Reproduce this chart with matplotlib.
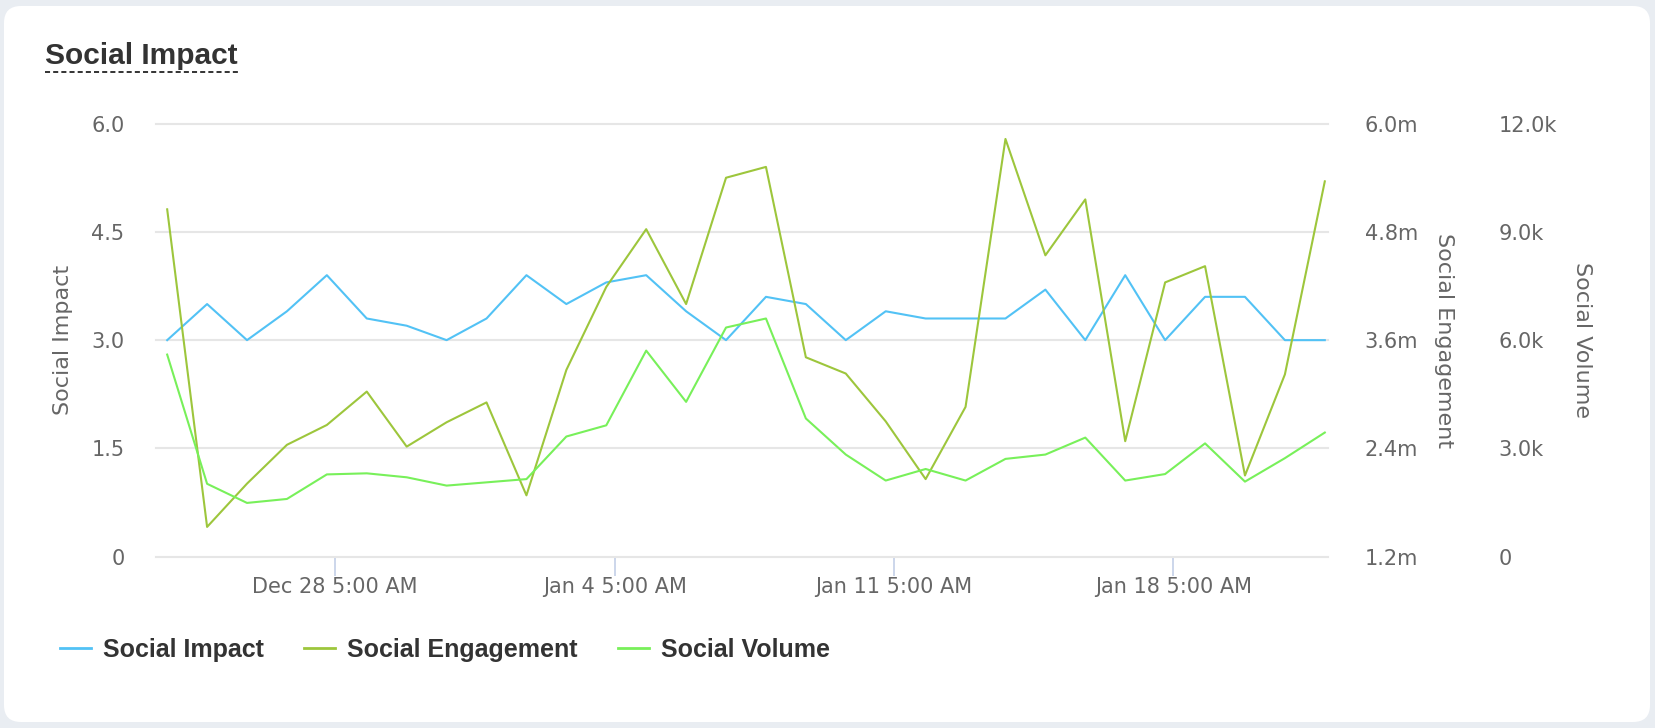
import matplotlib
matplotlib.use("Agg")
import matplotlib.pyplot as plt
import matplotlib.dates as mdates
from matplotlib.patches import FancyBboxPatch
from matplotlib.lines import Line2D
import pandas as pd

# ---------------- data ----------------
dates = pd.date_range("2019-12-24", periods=30, freq="D")

social_impact = [3.0, 3.5, 3.0, 3.4, 3.9, 3.3, 3.2, 3.0, 3.3, 3.9,
                 3.5, 3.8, 3.9, 3.4, 3.0, 3.6, 3.5, 3.0, 3.4, 3.3,
                 3.3, 3.3, 3.7, 3.0, 3.9, 3.0, 3.6, 3.6, 3.0, 3.0]

social_engagement = [5.05, 1.53, 2.01, 2.44, 2.66, 3.03, 2.42, 2.69, 2.91, 1.88,
                     3.27, 4.19, 4.83, 4.00, 5.40, 5.52, 3.41, 3.23, 2.70, 2.06,
                     2.86, 5.83, 4.54, 5.16, 2.48, 4.24, 4.42, 2.10, 3.22, 5.36]  # millions

social_volume = [5600, 2020, 1490, 1600, 2280, 2310, 2200, 1970, 2060, 2150,
                 3330, 3640, 5710, 4290, 6350, 6600, 3830, 2830, 2110, 2430,
                 2110, 2710, 2830, 3300, 2110, 2290, 3140, 2080, 2730, 3440]

x_tick_dates = ["2019-12-28 05:00", "2020-01-04 05:00", "2020-01-11 05:00", "2020-01-18 05:00"]
x_tick_labels = ["Dec 28 5:00 AM", "Jan 4 5:00 AM", "Jan 11 5:00 AM", "Jan 18 5:00 AM"]

impact_ticks = [0, 1.5, 3.0, 4.5, 6.0]
impact_tick_labels = ["0", "1.5", "3.0", "4.5", "6.0"]
eng_ticks = [1.2, 2.4, 3.6, 4.8, 6.0]
eng_tick_labels = ["1.2m", "2.4m", "3.6m", "4.8m", "6.0m"]
vol_ticks = [0, 3000, 6000, 9000, 12000]
vol_tick_labels = ["0", "3.0k", "6.0k", "9.0k", "12.0k"]

series_names = ["Social Impact", "Social Engagement", "Social Volume"]
colors = ["#52c2f5", "#9dc63c", "#78f05a"]

# ---------------- figure ----------------
W, H = 1656, 728
fig = plt.figure(figsize=(W / 100, H / 100), dpi=100, facecolor="#e9edf2")

card = FancyBboxPatch((0.04, 0.06), 16.46, 7.16,
                      boxstyle="round,pad=0,rounding_size=0.17",
                      transform=fig.dpi_scale_trans, facecolor="white",
                      edgecolor="none", zorder=0)
fig.add_artist(card)

sans = ["DejaVu Sans"]
title_font = ["Liberation Sans", "DejaVu Sans"]

# title with dashed underline
fig.text(45 / W, 1 - 63.5 / H, "Social Impact", family=title_font, weight="bold",
         fontsize=21.5, color="#333333", ha="left", va="baseline")
fig.add_artist(Line2D([45 / W, 238 / W], [1 - 72 / H, 1 - 72 / H],
                      transform=fig.transFigure, color="#333333", lw=1.4,
                      linestyle=(0, (2.6, 1.6))))

ax_left, ax_right_px, ax_top, ax_bot = 156, 1328, 123.6, 556.7
ax = fig.add_axes([ax_left / W, 1 - ax_bot / H, (ax_right_px - ax_left) / W,
                   (ax_bot - ax_top) / H])
ax.set_facecolor("none")
aw = ax_right_px - ax_left

x = mdates.date2num(dates.to_pydatetime())
xt = mdates.date2num(pd.to_datetime(x_tick_dates).to_pydatetime())

ax2 = ax.twinx()
ax3 = ax.twinx()

l1, = ax.plot(x, social_impact, color=colors[0], lw=1.5, zorder=3)
l2, = ax2.plot(x, social_engagement, color=colors[1], lw=1.5, zorder=3)
l3, = ax3.plot(x, social_volume, color=colors[2], lw=1.5, zorder=3)

ax.set_xlim(x[0] - 0.28, x[-1] + 0.08)
ax.set_ylim(0, 6.0)
ax2.set_ylim(1.2, 6.0)
ax3.set_ylim(0, 12000)

for a in (ax, ax2, ax3):
    for s in a.spines.values():
        s.set_visible(False)

ax.set_yticks(impact_ticks, labels=impact_tick_labels)
ax2.set_yticks(eng_ticks, labels=eng_tick_labels)
ax3.set_yticks(vol_ticks, labels=vol_tick_labels)
ax3.spines["right"].set_position(("axes", 1 + 134 / aw))

ax.tick_params(axis="y", length=0, pad=22.7, labelsize=15, labelcolor="#666666")
for a in (ax2, ax3):
    a.tick_params(axis="y", length=0, pad=26.4, labelsize=15, labelcolor="#666666")
    for lab in a.get_yticklabels():
        lab.set_family(sans)
for lab in ax.get_yticklabels():
    lab.set_family(sans)

ax.set_xticks(xt, labels=x_tick_labels)
ax.tick_params(axis="x", length=13.5, width=1.4, color="#ccd6eb", pad=1,
               labelsize=15, labelcolor="#666666")

ax.grid(axis="y", color="#e6e6e6", lw=1.5)
ax.grid(axis="x", visible=False)
ax.set_axisbelow(True)
for gl in ax.get_ygridlines():
    gl.set_clip_on(False)

ax.set_ylabel("Social Impact", fontsize=16, color="#666666", ha="center", va="center")
ax.yaxis.set_label_coords((63 - ax_left) / aw, 0.5)
ax2.set_ylabel("Social Engagement", fontsize=16, color="#666666", rotation=270,
               ha="center", va="center")
ax2.yaxis.set_label_coords((1444 - ax_left) / aw, 0.5)
ax3.set_ylabel("Social Volume", fontsize=16, color="#666666", rotation=270,
               ha="center", va="center")
ax3.yaxis.set_label_coords((1582 - ax_left) / aw, 0.5)

leg = fig.legend([l1, l2, l3], series_names, loc="center left",
                 bbox_to_anchor=(60 / W, 1 - 650 / H), ncol=3, frameon=False,
                 prop={"family": title_font, "weight": "bold", "size": 18},
                 handlelength=1.24, handletextpad=0.47, columnspacing=1.63,
                 borderaxespad=0, borderpad=0)
for t in leg.get_texts():
    t.set_color("#333333")
for h in leg.get_lines():
    h.set_linewidth(2.0)

fig.savefig("out.png", dpi=100, facecolor=fig.get_facecolor())
